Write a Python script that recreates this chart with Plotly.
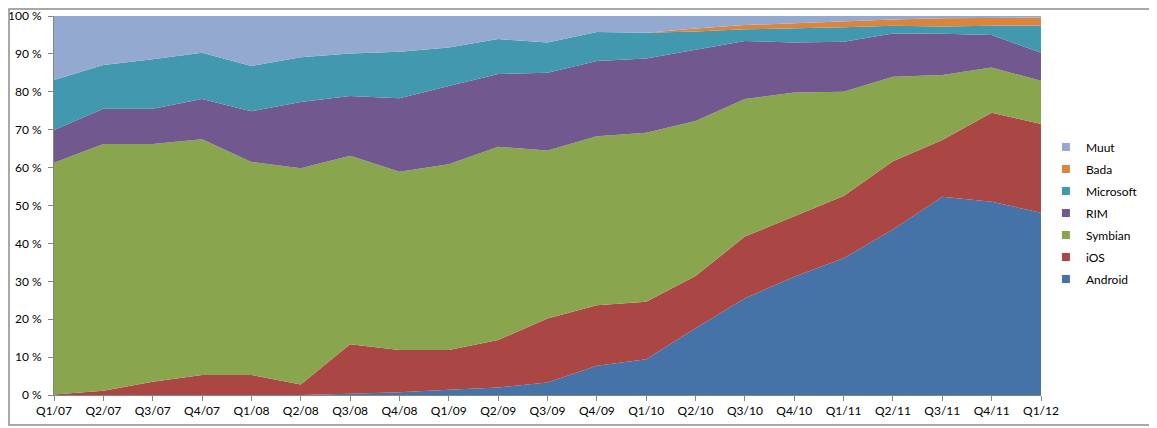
import plotly.graph_objects as go

quarters = ["Q1/07", "Q2/07", "Q3/07", "Q4/07", "Q1/08", "Q2/08", "Q3/08",
            "Q4/08", "Q1/09", "Q2/09", "Q3/09", "Q4/09", "Q1/10", "Q2/10",
            "Q3/10", "Q4/10", "Q1/11", "Q2/11", "Q3/11", "Q4/11", "Q1/12"]

# market share per quarter, percent
android = [0, 0, 0, 0, 0, 0, 0.3, 0.7, 1.4, 2.0, 3.3, 7.7, 9.4, 17.6,
           25.5, 31.2, 36.1, 43.7, 52.3, 51.0, 48.1]
ios = [0.1, 1.1, 3.5, 5.3, 5.3, 2.8, 13.1, 11.2, 10.5, 12.5, 16.9, 16.0,
       15.2, 13.8, 16.3, 16.0, 16.4, 18.0, 15.0, 23.5, 23.4]
symbian = [61.2, 65.1, 62.7, 62.2, 56.2, 57.0, 49.7, 47.0, 49.0, 51.0, 44.3,
           44.6, 44.6, 40.9, 36.3, 32.6, 27.5, 22.3, 17.1, 11.9, 11.4]
rim = [8.6, 9.3, 9.3, 10.6, 13.4, 17.5, 15.8, 19.4, 20.6, 19.2, 20.5, 19.8,
       19.6, 18.7, 15.3, 13.2, 13.2, 11.4, 10.9, 8.6, 7.4]
microsoft = [13.2, 11.6, 13.1, 12.2, 11.9, 11.8, 11.2, 12.3, 10.2, 9.2, 8.0,
             7.7, 6.8, 4.9, 3.1, 3.7, 3.8, 2.0, 1.9, 2.4, 7.1]
bada = [0, 0, 0, 0, 0, 0, 0, 0, 0, 0, 0, 0, 0, 0.8, 1.1, 1.4, 1.7, 1.7,
        2.2, 2.1, 2.2]
muut = [16.9, 12.9, 11.4, 9.7, 13.2, 10.9, 9.9, 9.4, 8.3, 6.1, 7.0, 4.2,
        4.4, 3.3, 2.4, 1.9, 1.3, 0.9, 0.6, 0.5, 0.4]

series = [
    ("Android", android, "#4572A7"),
    ("iOS", ios, "#AA4643"),
    ("Symbian", symbian, "#89A54E"),
    ("RIM", rim, "#71588F"),
    ("Microsoft", microsoft, "#4198AF"),
    ("Bada", bada, "#DB843D"),
    ("Muut", muut, "#93A9CF"),
]

fig = go.Figure()
for name, vals, color in series:
    fig.add_trace(go.Scatter(
        x=quarters, y=vals, name=name, mode="lines",
        stackgroup="one", line=dict(width=0, color=color),
        fillcolor=color, showlegend=False,
    ))

# legend entries with small square keys like Excel
for i, (name, vals, color) in enumerate(series):
    fig.add_trace(go.Scatter(
        x=[None], y=[None], name=name, mode="markers",
        marker=dict(symbol="square", size=8, color=color),
        legendgroup=name, legendrank=len(series) - i,
    ))

axis_col = "#868686"
fig.update_xaxes(
    type="category", range=[0, 20], showline=True, linecolor=axis_col,
    ticks="outside", ticklen=5, tickcolor=axis_col, showgrid=False,
    automargin=False, tickfont=dict(size=12, color="#000000"),
)
fig.update_yaxes(
    range=[0, 100], dtick=10, ticksuffix=" %", showline=True,
    linecolor=axis_col, ticks="outside", ticklen=5, tickcolor=axis_col,
    showgrid=False, zeroline=False, automargin=False, ticklabelstandoff=4,
    tickfont=dict(size=12, color="#000000"),
)

# outer chart border
fig.add_shape(type="rect", xref="paper", yref="paper",
              x0=-0.0456, x1=1.1145, y0=-0.079, y1=1.0185,
              line=dict(color="#8c8c8c", width=1.5))

fig.update_layout(
    width=1157, height=428,
    margin=dict(l=46, r=124, t=8, b=41),
    paper_bgcolor="white", plot_bgcolor="white",
    font=dict(family="Lato, Open Sans, sans-serif", size=12, color="#000000"),
    showlegend=True,
    legend=dict(x=1.005, y=0.48, xanchor="left", yanchor="middle",
                traceorder="grouped", tracegroupgap=3,
                itemwidth=30, font=dict(size=12)),
)

fig.write_html("out.html")
